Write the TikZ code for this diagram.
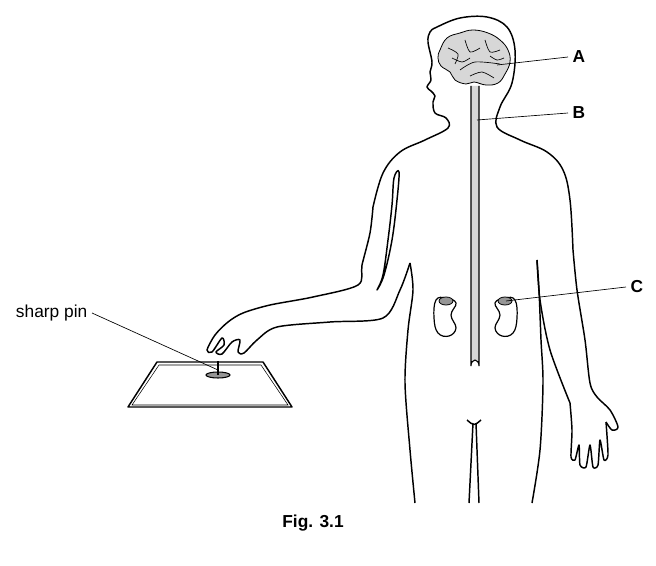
\documentclass[tikz,border=0pt]{standalone}
\usepackage{fontspec}
\setmainfont{Liberation Sans}
\usetikzlibrary{positioning}
\definecolor{organgrey}{RGB}{215,215,215}
\definecolor{capgrey}{RGB}{150,150,150}

\begin{document}
\begin{tikzpicture}[x=0.75pt, y=-0.75pt,
    outline/.style={draw, line width=1.1pt, line join=round},
    leader/.style={draw, line width=0.5pt},
    lab/.style={font=\bfseries\fontsize{13}{15}\selectfont},
    fold/.style={draw, line width=0.5pt}
]
    \useasboundingbox (0,0) rectangle (656,566);

    % head, neck and shoulders
    \draw[outline] plot[smooth, tension=0.6] coordinates {(373,207) (383,173) (400,152) (425,140) (448,128) (446,118) (435,113) (433,102) (435,96) (431,91) (427,87) (431,80) (430,72) (432,62) (428,42) (430,32) (437,27) (460,18) (487,17) (507,27) (515,50) (512,83) (500,107) (497,127) (520,140) (547,152) (563,170) (570,200) (573,250)};

    % left arm reaching to the pin
    \draw[outline] plot[smooth, tension=0.5] coordinates {(373,207) (370,233) (362,265) (358,285) (313,297) (270,305) (243,313) (228,322) (215,335) (207,350) (212,352) (222,338) (224,345) (216,352) (222,354) (232,342) (240,340) (238,352) (244,353) (257,340) (277,327) (330,322) (383,318) (400,290) (410,263)};
    \draw[outline] plot[smooth cycle, tension=0.6] coordinates {(399,172) (397,200) (392,240) (384,275) (377,290) (383,275) (388,240) (392,205) (394,178)};

    % torso and legs
    \draw[outline] plot[smooth, tension=0.5] coordinates {(410,263) (413,290) (408,330) (405,383) (410,450) (415,503)};
    \draw[outline] plot[smooth, tension=0.5] coordinates {(537,260) (539,290) (541,340) (543,383) (540,450) (532,503)};
    \draw[outline] (467,420) .. controls (474,426) .. (481,420);
    \draw[outline] (473,423) -- (469,503);
    \draw[outline] (476,423) -- (479,503);

    % right arm and hand
    \draw[outline] plot[smooth, tension=0.5] coordinates {(573,250) (577,290) (585,340) (590,383) (597,397) (610,410) (618,427) (612,430) (606,422)};
    \draw[outline] plot[smooth, tension=0.4] coordinates {(606,422) (608,455) (604,460) (600,440) (598,465) (593,467) (590,445) (586,467) (580,465) (579,445) (575,460) (571,457) (572,430) (570,403)};
    \draw[outline] plot[smooth, tension=0.5] coordinates {(537,260) (540,300) (550,350) (570,403)};

    % brain
    \draw[fill=organgrey, line width=0.6pt] plot[smooth cycle, tension=0.7] coordinates {(440,50) (447,38) (460,33) (473,30) (488,33) (500,40) (508,50) (510,62) (505,74) (498,83) (486,85) (474,82) (466,84) (455,80) (450,72) (441,66) (438,58)};
    \foreach \pa/\pb/\pc in {{448,48}/{458,54}/{455,64}, {465,40}/{470,52}/{480,48}, {485,40}/{490,52}/{500,50}, {460,70}/{475,62}/{500,64}, {470,76}/{482,72}/{494,78}, {452,58}/{462,62}/{470,58}, {490,56}/{497,60}/{504,58}}
        \draw[fold] plot[smooth] coordinates {(\pa) (\pb) (\pc)};

    % spinal cord
    \draw[fill=organgrey, line width=0.8pt] (471,86) -- (471,366) arc[start angle=180, end angle=360, x radius=4, y radius=6] -- (479,86);

    % kidneys
    \foreach \kx/\s in {446/1, 505/-1} {
        \draw[outline, line width=0.9pt, xshift=\kx*0.75pt, xscale=\s] plot[smooth cycle, tension=0.7] coordinates {(-10,300) (0,298) (10,303) (5,315) (10,328) (3,336) (-8,333) (-12,318)};
        \draw[fill=capgrey, line width=0.6pt] (\kx,301) ellipse[x radius=7, y radius=4];
    }

    % tray and pin
    \draw[outline] (157,362) -- (263,362) -- (292,407) -- (128,407) -- cycle;
    \draw[line width=0.4pt] (159,365) -- (261,365) -- (288,405) -- (132,405) -- cycle;
    \draw[fill=capgrey, line width=0.8pt] (218,375) ellipse[x radius=12, y radius=3];
    \draw[line width=1.4pt] (218,375) -- (218,361);

    % labels
    \node[lab, anchor=west] (labA) at (568,57) {A};
    \node[lab, anchor=west] (labB) at (568,113) {B};
    \node[lab, anchor=west] (labC) at (626,287) {C};
    \node[anchor=east, font=\fontsize{13}{15}\selectfont] (pin) at (92,313) {sharp pin};
    \coordinate (brainpt) at (497,65);
    \coordinate (cordpt) at (477,120);
    \coordinate (kidneypt) at (506,301);
    \coordinate (pinpt) at (218,370);
    \draw[leader] (labA.west) -- (brainpt);
    \draw[leader] (labB.west) -- (cordpt);
    \draw[leader] (labC.west) -- (kidneypt);
    \draw[leader] (pin.east) -- (pinpt);
    \node[lab] (fig) at (313,523) {Fig. 3.1};
\end{tikzpicture}
\end{document}
